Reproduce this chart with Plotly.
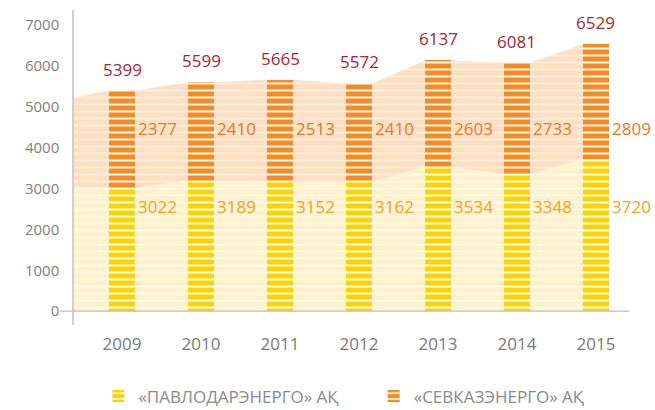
import plotly.graph_objects as go

years = [2009, 2010, 2011, 2012, 2013, 2014, 2015]
pavlodar = [3022, 3189, 3152, 3162, 3534, 3348, 3720]
sevkaz = [2377, 2410, 2513, 2410, 2603, 2733, 2809]
totals = [5399, 5599, 5665, 5572, 6137, 6081, 6529]
# where the shaded bands start at the left edge of the plot (estimated)
band_start = [3050, 5220]

names = ["«ПАВЛОДАРЭНЕРГО» АҚ", "«СЕВКАЗЭНЕРГО» АҚ"]

YELLOW = "#FFD300"
ORANGE = "#F78A20"
FONT = "Open Sans"

bar_w = 0.33
x_range = [2008.392, 2015.418]
y_range = [-340, 7370]

# band outlines follow bar edges
band_x = [x_range[0]]
band_lo = [band_start[0]]
band_hi = [band_start[1]]
for yr, p, t in zip(years, pavlodar, totals):
    band_x += [yr - bar_w / 2, yr + bar_w / 2]
    band_lo += [p, p]
    band_hi += [t, t]

fig = go.Figure()

# background bands on the base axes (drawn under the bars)
fig.add_trace(go.Scatter(
    x=band_x, y=band_lo, mode="lines", line=dict(width=0),
    fill="tozeroy", fillcolor="#FEF2CE",
    fillpattern=dict(shape="-", size=7, solidity=0.25,
                     fgcolor="#FFFFFF", fgopacity=0.45, bgcolor="#FEF2CE"),
    showlegend=False, hoverinfo="skip",
))
fig.add_trace(go.Scatter(
    x=band_x, y=band_hi, mode="lines", line=dict(width=0),
    fill="tonexty", fillcolor="#FDDFC2",
    fillpattern=dict(shape="-", size=7, solidity=0.25,
                     fgcolor="#FFFFFF", fgopacity=0.45, bgcolor="#FDDFC2"),
    showlegend=False, hoverinfo="skip",
))

# striped stacked bars on overlaying axes, each with its own legend box
for vals, color, name, leg in [(pavlodar, YELLOW, names[0], "legend"),
                               (sevkaz, ORANGE, names[1], "legend2")]:
    fig.add_trace(go.Bar(
        x=years, y=vals, name=name, width=bar_w, legend=leg,
        marker=dict(color=color, line=dict(width=0),
                    pattern=dict(shape="-", size=7, solidity=0.28,
                                 fgcolor="#FFFFFF", fgopacity=1, bgcolor=color)),
        xaxis="x2", yaxis="y2",
    ))

annotations = []
for yr, p, s, t in zip(years, pavlodar, sevkaz, totals):
    annotations.append(dict(
        x=yr, y=t, xref="x2", yref="y2", text=str(t), showarrow=False,
        yanchor="bottom", yshift=8,
        font=dict(family=FONT, size=17, color="#A8262E"),
    ))
    annotations.append(dict(
        x=yr + bar_w / 2, y=4480, xref="x2", yref="y2", text=str(s),
        showarrow=False, xanchor="left", xshift=1,
        font=dict(family=FONT, size=17, color="#E8762A"),
    ))
    annotations.append(dict(
        x=yr + bar_w / 2, y=2550, xref="x2", yref="y2", text=str(p),
        showarrow=False, xanchor="left", xshift=1,
        font=dict(family=FONT, size=17, color="#F4A021"),
    ))

legend_style = dict(orientation="h", yref="container", y=0.033,
                    xanchor="left", yanchor="middle",
                    font=dict(size=17, color="#8A8A8A"), bgcolor="rgba(0,0,0,0)")

fig.update_layout(
    width=655, height=410,
    margin=dict(l=74, r=26, t=10, b=85),
    paper_bgcolor="white", plot_bgcolor="white",
    barmode="stack",
    font=dict(family=FONT, color="#808080"),
    xaxis=dict(range=x_range, tickvals=years, ticktext=[str(y) for y in years],
               showgrid=False, zeroline=False, showline=False, ticks="",
               tickfont=dict(size=17, color="#7A7A7A"), ticklabelstandoff=7),
    yaxis=dict(range=y_range, tickvals=list(range(0, 8000, 1000)),
               showgrid=False, zeroline=False, showline=True,
               linecolor="#CFCFCF", linewidth=1.5, ticks="",
               tickfont=dict(size=15, color="#808080"), ticklabelstandoff=10),
    xaxis2=dict(range=x_range, overlaying="x", visible=False),
    yaxis2=dict(range=y_range, overlaying="y", visible=False),
    legend=dict(x=0.044, **legend_style),
    legend2=dict(x=0.54, **legend_style),
    annotations=annotations,
    shapes=[dict(type="line", xref="paper", yref="y", x0=-0.025, x1=1,
                 y0=0, y1=0, line=dict(color="#BDBDBD", width=1.2))],
)

fig.write_html("out.html", config={"displayModeBar": False},
               post_script="document.body.style.margin='0';")
